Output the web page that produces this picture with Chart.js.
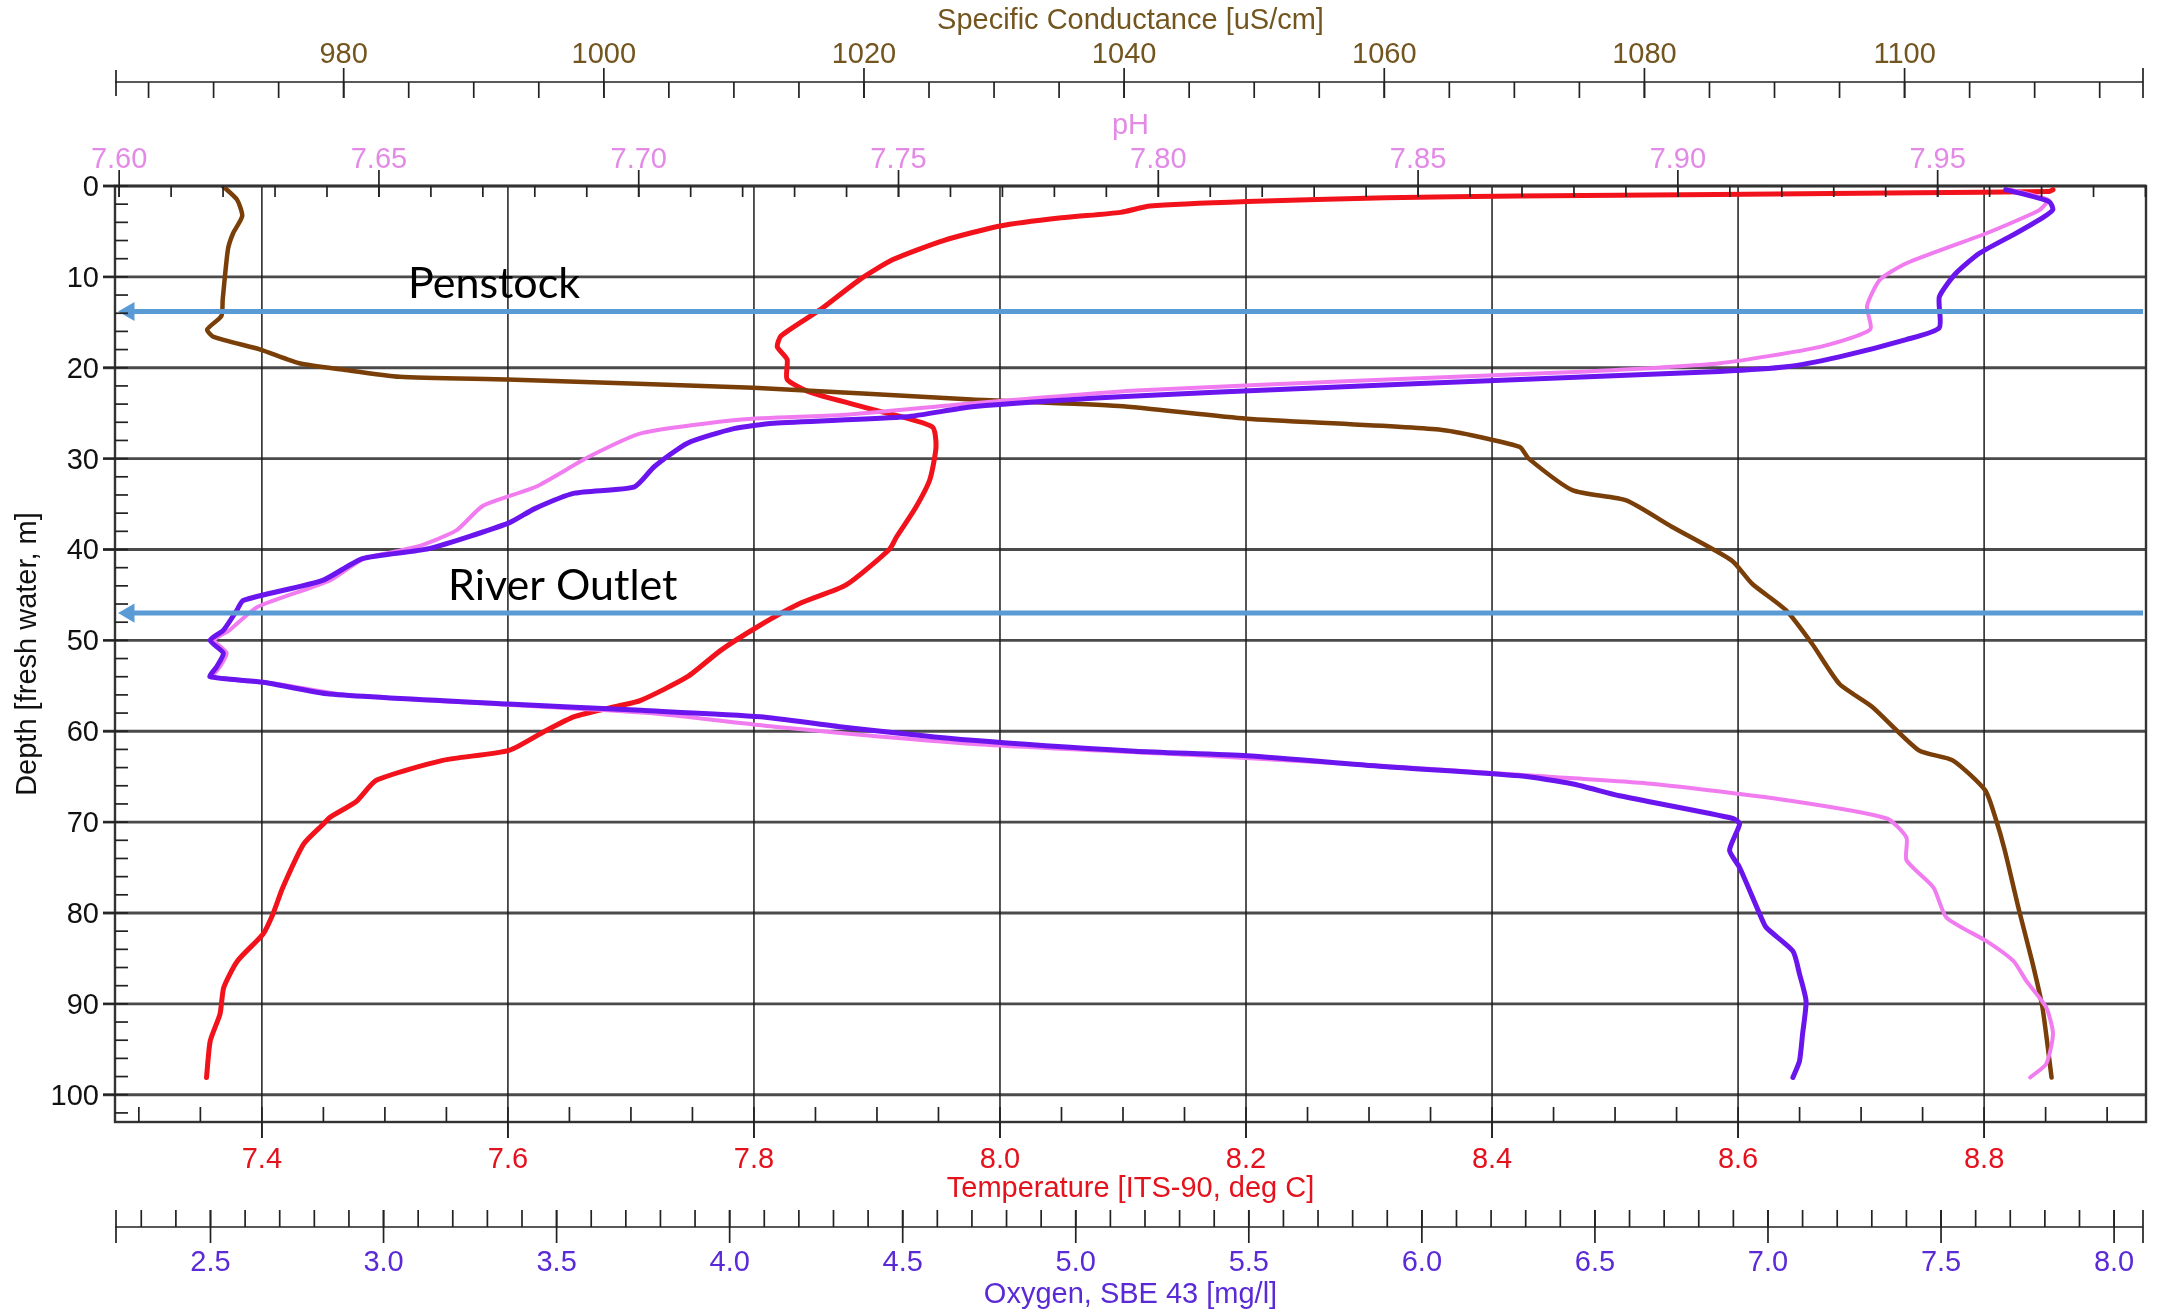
<!DOCTYPE html>
<html><head><meta charset="utf-8"><title>CTD profile</title>
<script src="https://cdn.jsdelivr.net/npm/chart.js@4.4.1/dist/chart.umd.min.js"></script>
<style>html,body{margin:0;padding:0;background:#fff;overflow:hidden}canvas{display:block}</style>
</head><body>
<canvas id="chart" width="2165" height="1311"></canvas>
<script>
// ---------- data (depth in m) ----------
const tempDepth = [0.4,0.6,0.75,1.1,1.3,1.7,2.2,2.9,3.5,4.4,6.0,8.1,10.3,13.6,16.5,17.7,19.1,21.3,22.8,24.6,26.5,28.7,32.3,35.5,38.6,40.0,43.9,45.9,48.5,51.1,54.0,56.6,57.3,58.4,60.0,62.1,63.2,65.4,67.7,69.5,70.2,72.4,77.2,80.1,82.3,85.3,88.2,91.1,94.1,98.1];
const tempValue = [8.856,8.853,8.745,8.421,8.314,8.201,8.122,8.098,8.050,8.000,7.954,7.913,7.886,7.854,7.822,7.819,7.827,7.827,7.848,7.897,7.945,7.948,7.943,7.931,7.916,7.910,7.875,7.838,7.803,7.773,7.746,7.708,7.687,7.654,7.630,7.601,7.547,7.493,7.477,7.455,7.450,7.434,7.417,7.409,7.401,7.380,7.369,7.366,7.358,7.355];

const condDepth = [0,1.5,3.3,5.2,7.0,12.5,14.3,15.8,16.6,18.0,19.5,20.2,21.0,21.3,22.2,23.5,24.2,25.6,26.8,28.7,30.0,33.5,34.6,37.5,41.2,43.8,46.7,50.4,54.8,57.3,62.1,63.2,66.5,69.6,73.1,79.7,85.3,90.4,98.1];
const condValue = [970.7,971.8,972.2,971.5,971.1,970.7,970.6,969.5,970.0,973.6,976.6,979.9,984.3,992.6,1011.5,1028.3,1039.6,1049.4,1064.2,1070.4,1071.1,1074.5,1078.6,1082.1,1086.7,1088.3,1090.9,1092.9,1095.0,1097.5,1101.1,1103.7,1106.2,1107.0,1107.7,1108.8,1109.8,1110.6,1111.3];

const oxyDepth = [0.4,1.7,2.6,3.5,5.4,7.4,9.6,12.2,15.6,16.9,18.8,19.9,20.4,21.3,22.2,23.2,24.3,25.4,26.1,26.7,28.3,30.9,33.1,33.8,35.5,37.1,39.9,41.0,43.4,45.6,46.7,48.9,50.0,51.4,52.9,54.0,54.6,55.9,57.0,57.7,58.4,59.5,61.0,62.2,62.7,63.9,64.9,65.8,67.1,69.6,70.2,73.1,75.0,80.1,81.6,84.2,86.7,89.7,93.3,96.3,98.1];
const oxyValue = [7.687,7.812,7.823,7.793,7.707,7.611,7.543,7.495,7.495,7.399,7.206,7.053,6.860,6.283,5.706,5.128,4.701,4.510,4.127,4.012,3.878,3.782,3.725,3.552,3.437,3.361,3.131,2.939,2.824,2.595,2.576,2.537,2.499,2.537,2.518,2.499,2.652,2.844,3.361,3.744,4.089,4.318,4.701,5.171,5.494,5.898,6.283,6.437,6.571,6.899,6.918,6.889,6.918,6.976,6.995,7.072,7.091,7.110,7.100,7.091,7.072];

const phDepth = [0.4,1.5,2.5,3.0,5.2,8.5,10.3,13.2,15.8,17.7,19.5,20.4,21.3,22.5,23.9,25.2,25.7,27.2,29.8,33.1,35.2,37.9,39.7,41.0,43.4,46.3,48.9,50.0,51.4,52.9,54.0,54.8,56.0,57.2,58.0,59.5,61.4,62.6,63.8,64.8,65.8,67.6,69.6,71.7,74.2,77.2,80.5,83.1,85.3,87.5,90.4,93.3,96.6,98.1];
const phValue = [7.9638,7.9712,7.9699,7.9684,7.9594,7.9440,7.9389,7.9364,7.9370,7.9274,7.9081,7.8825,7.8441,7.7957,7.7644,7.7389,7.7198,7.7006,7.6904,7.6802,7.6700,7.6649,7.6573,7.6471,7.6406,7.6267,7.6212,7.6183,7.6207,7.6194,7.6181,7.6305,7.6438,7.6783,7.7022,7.7261,7.7644,7.8058,7.8430,7.8695,7.8953,7.9210,7.9402,7.9440,7.9440,7.9492,7.9517,7.9594,7.9646,7.9671,7.9709,7.9722,7.9709,7.9678];

// ---------- tick labels ----------
const depthTicks = ['0','10','20','30','40','50','60','70','80','90','100'];
const tempTicks  = ['7.4','7.6','7.8','8.0','8.2','8.4','8.6','8.8'];
const oxyTicks   = ['2.5','3.0','3.5','4.0','4.5','5.0','5.5','6.0','6.5','7.0','7.5','8.0'];
const condTicks  = ['980','1000','1020','1040','1060','1080','1100'];
const phTicks    = ['7.60','7.65','7.70','7.75','7.80','7.85','7.90','7.95'];

// ---------- annotations ----------
const annotDepth = [13.8, 47.0];
const annotLabel = ['Penstock', 'River Outlet'];

// ---------- helpers ----------
const FONT = '"Liberation Sans", Arial, sans-serif';
const pts = (xs, ys) => ys.map((y, i) => ({x: xs[i], y: y}));
function seq(min, max, step){ const out=[]; for(let i=Math.ceil(min/step-1e-9); i*step<=max+1e-9; i++) out.push(+(i*step).toFixed(6)); return out; }

const painter = {
  id: 'painter',
  beforeDatasetsDraw(chart){
    const {ctx, chartArea:a, scales:s} = chart;
    ctx.save();
    const seg=(x1,y1,x2,y2)=>{ctx.beginPath();ctx.moveTo(x1,y1);ctx.lineTo(x2,y2);ctx.stroke();};
    ctx.strokeStyle='#4a4a4a'; ctx.lineWidth=2.8;
    depthTicks.forEach(d=>{const py=s.y.getPixelForValue(+d); seg(a.left-12,py,a.right,py);});
    ctx.strokeStyle='#1c1c1c'; ctx.lineWidth=1.5;
    tempTicks.forEach(t=>{const px=s.x.getPixelForValue(+t); seg(px,a.top,px,a.bottom+16);});
    ctx.restore();
  },
  afterDatasetsDraw(chart){
    const {ctx, scales:s} = chart;
    ctx.save();
    ctx.fillStyle='#000';
    ctx.font='43px Lato, "Open Sans", sans-serif';
    ctx.textAlign='left'; ctx.textBaseline='alphabetic';
    const lx=[7.5188, 7.5513];
    annotLabel.forEach((t,i)=>{
      ctx.fillText(t, s.x.getPixelForValue(lx[i]), s.y.getPixelForValue(annotDepth[i]) - 13);
    });
    ctx.restore();
  },
  afterDraw(chart){
    const {ctx, chartArea:a, scales:s} = chart;
    const L=a.left, R=a.right, T=a.top, B=a.bottom;
    ctx.save();
    const seg=(x1,y1,x2,y2)=>{ctx.beginPath();ctx.moveTo(x1,y1);ctx.lineTo(x2,y2);ctx.stroke();};
    // frame
    ctx.strokeStyle='#333'; ctx.lineWidth=2.4;
    ctx.strokeRect(L, T, R-L, B-T);
    ctx.strokeStyle='#222'; ctx.lineWidth=1.7;
    ctx.font='29px '+FONT; ctx.textAlign='center'; ctx.textBaseline='middle';

    // Specific conductance axis (top, detached)
    const cY=82;
    seg(L, cY, R-3, cY); seg(L+1, 70, L+1, 96); seg(R-3, 68, R-3, 98);
    seq(965,1115,5).forEach(v=>{const px=s.xC.getPixelForValue(v); seg(px,cY,px,98);});
    ctx.fillStyle='#73561f';
    condTicks.forEach(t=>{const px=s.xC.getPixelForValue(+t); seg(px,68,px,98); ctx.fillText(t, px, 55);});
    ctx.fillText('Specific Conductance [uS/cm]', (L+R)/2, 21);

    // pH axis (on top border)
    seq(7.60,7.99,0.01).forEach(v=>{const px=s.xP.getPixelForValue(v); seg(px,T,px,T+11);});
    ctx.fillStyle='#e28ae6';
    phTicks.forEach(t=>{const px=s.xP.getPixelForValue(+t); seg(px,T-16,px,T+11); ctx.fillText(t, px, 160);});
    ctx.fillText('pH', (L+R)/2, 126);

    // Temperature axis (bottom border)
    seq(7.30,8.90,0.05).forEach(v=>{const px=s.x.getPixelForValue(v); seg(px,B-15,px,B);});
    ctx.fillStyle='#e3121c';
    tempTicks.forEach(t=>{const px=s.x.getPixelForValue(+t); seg(px,B,px,B+16); ctx.fillText(t, px, 1160);});
    ctx.fillText('Temperature [ITS-90, deg C]', (L+R)/2, 1189);

    // Oxygen axis (detached, bottom)
    const oY=1227;
    seg(L, oY, R-3, oY); seg(L+1, 1210, L+1, 1243); seg(R-3, 1210, R-3, 1243);
    seq(2.3,8.0,0.1).forEach(v=>{const px=s.xO.getPixelForValue(v); seg(px,1210,px,oY);});
    ctx.fillStyle='#5a2ad6';
    oxyTicks.forEach(t=>{const px=s.xO.getPixelForValue(+t); seg(px,1210,px,1243); ctx.fillText(t, px, 1263);});
    ctx.fillText('Oxygen, SBE 43 [mg/l]', (L+R)/2, 1295);

    // Depth axis (left border)
    seq(0,102,2).forEach(v=>{const py=s.y.getPixelForValue(v); seg(L,py,L+13,py);});
    ctx.fillStyle='#111'; ctx.textAlign='right';
    depthTicks.forEach(t=>{const py=s.y.getPixelForValue(+t); seg(L-12,py,L,py); ctx.fillText(t, 99, py+2);});
    ctx.translate(28, (T+B)/2); ctx.rotate(-Math.PI/2); ctx.textAlign='center';
    ctx.fillText('Depth [fresh water, m]', 0, 0);
    ctx.restore();
  }
};

const blue = '#5b9bd5';
const arrowStart = 7.2920, arrowEnd = 8.9292;
const lineOpts = {showLine:true, pointRadius:0, tension:0.2, borderJoinStyle:'round', borderCapStyle:'round'};
const datasets = [
  {label:'Penstock', data:[{x:arrowStart,y:annotDepth[0]},{x:arrowEnd,y:annotDepth[0]}], xAxisID:'x', yAxisID:'y', borderColor:blue, backgroundColor:blue, borderWidth:5, showLine:true, pointRadius:[11,0], pointStyle:'triangle', rotation:-90, pointBorderWidth:0, pointBackgroundColor:blue, order:0},
  {label:'River Outlet', data:[{x:arrowStart,y:annotDepth[1]},{x:arrowEnd,y:annotDepth[1]}], xAxisID:'x', yAxisID:'y', borderColor:blue, backgroundColor:blue, borderWidth:5, showLine:true, pointRadius:[11,0], pointStyle:'triangle', rotation:-90, pointBorderWidth:0, pointBackgroundColor:blue, order:0},
  Object.assign({label:'Oxygen, SBE 43 [mg/l]', data:pts(oxyValue, oxyDepth), xAxisID:'xO', yAxisID:'y', borderColor:'#6a14ee', borderWidth:5, order:1}, lineOpts),
  Object.assign({label:'pH', data:pts(phValue, phDepth), xAxisID:'xP', yAxisID:'y', borderColor:'#f07cf0', borderWidth:4, order:2}, lineOpts),
  Object.assign({label:'Specific Conductance [uS/cm]', data:pts(condValue, condDepth), xAxisID:'xC', yAxisID:'y', borderColor:'#7a3e08', borderWidth:4.5, order:3}, lineOpts),
  Object.assign({label:'Temperature [ITS-90, deg C]', data:pts(tempValue, tempDepth), xAxisID:'x', yAxisID:'y', borderColor:'#f2121b', borderWidth:5, order:4}, lineOpts)
];

new Chart(document.getElementById('chart'), {
  type: 'scatter',
  data: { datasets },
  options: {
    responsive: false, animation: false, devicePixelRatio: 1,
    layout: { padding: { left: 115, top: 186, right: 19, bottom: 189 } },
    plugins: { legend: { display: false }, tooltip: { enabled: false } },
    scales: {
      x:  { type:'linear', display:false, min:7.2806, max:8.9316 },
      xO: { type:'linear', axis:'x', display:false, min:2.2241, max:8.0922 },
      xC: { type:'linear', axis:'x', display:false, min:962.42, max:1118.56 },
      xP: { type:'linear', axis:'x', display:false, min:7.5992, max:7.9901 },
      y:  { type:'linear', display:false, reverse:true, min:0, max:103 }
    }
  },
  plugins: [painter]
});
</script></body></html>
